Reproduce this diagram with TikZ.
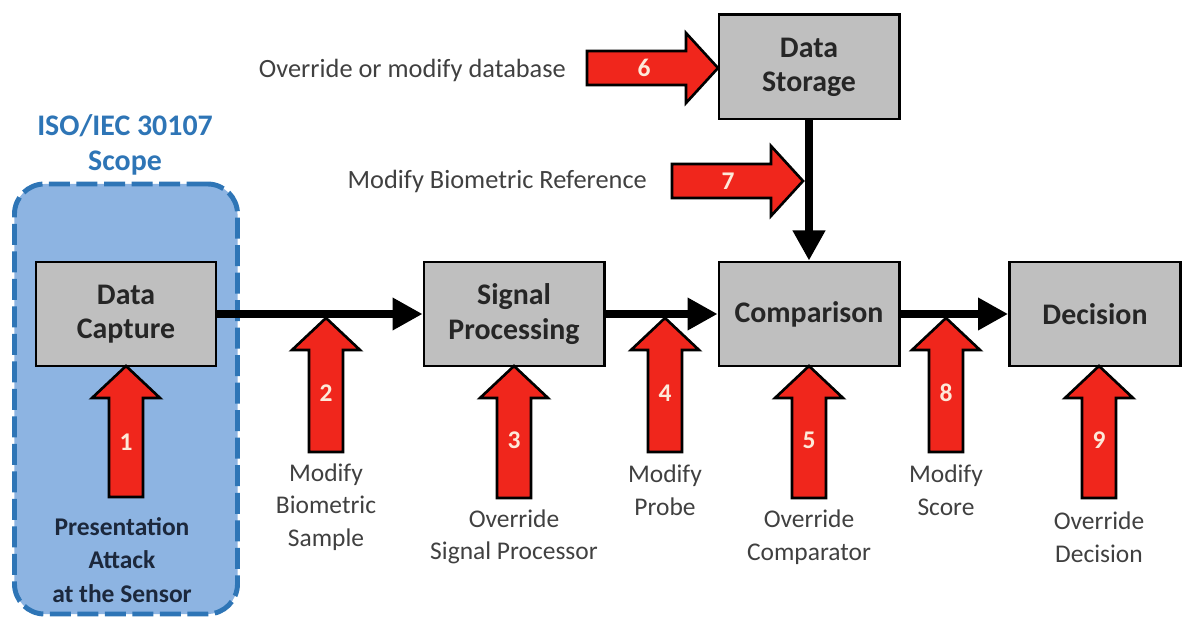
\documentclass[tikz,border=0pt]{standalone}
\usepackage{fontspec}
\setmainfont{Carlito}
\usetikzlibrary{arrows.meta}
\definecolor{scopeblue}{RGB}{141,180,226}
\definecolor{scopeline}{RGB}{46,117,182}
\definecolor{boxgray}{RGB}{191,191,191}
\definecolor{attackred}{RGB}{240,38,28}
\definecolor{textgray}{RGB}{64,64,64}
\definecolor{darknavy}{RGB}{28,40,60}
\definecolor{numcream}{RGB}{253,233,217}

\begin{document}
\begin{tikzpicture}[x=0.2mm,y=-0.2mm,
  block/.style={draw=black,line width=1.7pt,fill=boxgray,minimum width=3.6cm,minimum height=2.08cm,
    align=center,text=black!85,font=\fontsize{17}{19.5}\selectfont\bfseries},
  flow/.style={line width=4pt,-{Triangle[length=0.6cm,width=0.62cm]}},
  attack/.style={fill=attackred,draw=black,line width=1.5pt,line join=miter},
  num/.style={text=numcream,font=\fontsize{14.5}{14.5}\selectfont\bfseries},
  threat/.style={text=textgray,align=center,font=\fontsize{14.5}{18.5}\selectfont}]
\useasboundingbox (0,0) rectangle (1189,619);

% scope of the standard
\node[draw=scopeline,fill=scopeblue,line width=2.8pt,dash pattern=on 0.42cm off 0.13cm,
  rounded corners=0.6cm,minimum width=4.46cm,minimum height=8.6cm] (scope) at (126,399) {};
\node[text=scopeline,align=center,font=\fontsize{17}{20}\selectfont\bfseries] (iso) at (125,145) {ISO/IEC 30107\\Scope};

% processing chain
\node[block] (dc) at (126,314) {Data\\Capture};
\node[block] (sp) at (514,314) {Signal\\Processing};
\node[block] (comp) at (809,314) {Comparison};
\node[block,minimum width=3.42cm] (dec) at (1095,314) {Decision};
\node[block] (ds) at (809,67) {Data\\Storage};

\draw[flow] (dc) -- (sp);
\draw[flow] (sp) -- (comp);
\draw[flow] (comp) -- (dec);
\draw[flow] (ds) -- (comp);

% attack points from below
\foreach \x/\tip/\tail/\n/\ny in {126/366/497/1/442, 326/318/452/2/393, 514/366/498/3/440,
    665/318/452/4/393, 809/366/498/5/440, 946/318/452/8/393, 1099/366/498/9/440} {
  \filldraw[attack] (\x-17,\tail) -- (\x-17,\tip+32) -- (\x-34,\tip+32) -- (\x,\tip)
    -- (\x+34,\tip+32) -- (\x+17,\tip+32) -- (\x+17,\tail) -- cycle;
  \node[num] (n\n) at (\x,\ny) {\n};
}

% attack points from the left
\filldraw[attack] (587,51) -- (686,51) -- (686,33) -- (718,68) -- (686,103) -- (686,85) -- (587,85) -- cycle;
\node[num] (n6) at (644,68) {6};
\filldraw[attack] (672,164) -- (771,164) -- (771,146) -- (803,181) -- (771,216) -- (771,198) -- (672,198) -- cycle;
\node[num] (n7) at (728,181) {7};

% what each attack does
\node[text=darknavy,align=center,font=\fontsize{14.5}{19}\selectfont\bfseries] (pa) at (122,560) {Presentation\\Attack\\at the Sensor};
\node[threat] (t2) at (326,507) {Modify\\Biometric\\Sample};
\node[threat] (t3) at (514,537) {Override\\Signal Processor};
\node[threat] (t4) at (665,490) {Modify\\Probe};
\node[threat] (t5) at (809,537) {Override\\Comparator};
\node[threat] (t8) at (946,490) {Modify\\Score};
\node[threat] (t9) at (1099,537) {Override\\Decision};
\node[threat,anchor=east,font=\fontsize{15}{18.5}\selectfont] (t6) at (572,70) {Override or modify database};
\node[threat,anchor=east,font=\fontsize{15}{18.5}\selectfont] (t7) at (653,181) {Modify Biometric Reference};

\end{tikzpicture}
\end{document}
